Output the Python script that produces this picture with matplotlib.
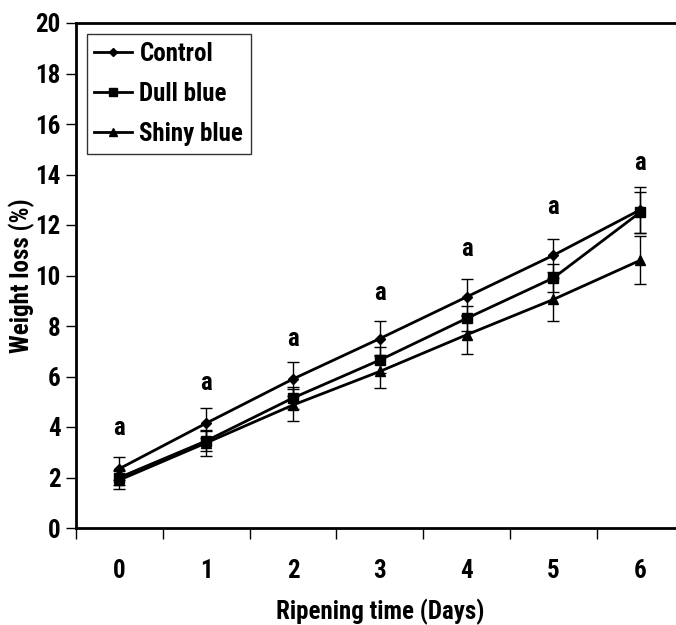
import matplotlib
matplotlib.use("Agg")
import matplotlib.pyplot as plt
from matplotlib.lines import Line2D
import numpy as np

# --- data ---
days = [0, 1, 2, 3, 4, 5, 6]
control = [2.35, 4.15, 5.9, 7.5, 9.15, 10.8, 12.6]
dull_blue = [2.0, 3.45, 5.15, 6.65, 8.3, 9.9, 12.5]
shiny_blue = [1.9, 3.37, 4.87, 6.2, 7.65, 9.05, 10.6]
control_err = [0.45, 0.6, 0.68, 0.68, 0.7, 0.65, 0.9]
dull_err = [0.3, 0.4, 0.45, 0.5, 0.5, 0.55, 0.8]
shiny_err = [0.35, 0.5, 0.62, 0.64, 0.75, 0.87, 0.95]
letters = ["a", "a", "a", "a", "a", "a", "a"]
letter_y = [3.95, 5.75, 7.5, 9.3, 11.05, 12.7, 14.45]

font = ["Roboto Condensed", "PT Sans Narrow", "Liberation Sans", "DejaVu Sans"]
plt.rcParams["font.family"] = font
plt.rcParams["font.weight"] = "bold"
fs = 18

fig = plt.figure(figsize=(6.76, 6.25), dpi=100)
ax = fig.add_axes([76 / 676, 97 / 625, 607.5 / 676, 505 / 625])

series = [
    ("Control", control, control_err, "D", 5),
    ("Dull blue", dull_blue, dull_err, "s", 7),
    ("Shiny blue", shiny_blue, shiny_err, "^", 7),
]
handles = []
for name, vals, err, mk, ms in series:
    ax.errorbar(days, vals, yerr=err, color="black", marker=mk, markersize=ms,
                linewidth=2, elinewidth=1, capsize=4, capthick=1)
    handles.append(Line2D([], [], color="black", marker=mk, markersize=ms - 1,
                          linewidth=2, label=name))

for d, t, yv in zip(days, letters, letter_y):
    ax.text(d, yv, t, ha="center", va="center", fontsize=fs, fontweight="bold")

ax.set_xlim(-0.5, 6.5)
ax.set_ylim(0, 20)
ax.set_yticks(np.arange(0, 21, 2))
ax.set_xticks(days)
ax.set_xticks(np.arange(-0.5, 7, 1), minor=True)
ax.tick_params(axis="x", which="major", length=0, pad=22, labelsize=fs)
ax.tick_params(axis="x", which="minor", length=8, width=1, direction="out")
ax.tick_params(axis="y", length=7, width=1, direction="out", labelsize=fs, pad=4)
for lab in ax.get_xticklabels() + ax.get_yticklabels():
    lab.set_fontweight("bold")

for s in ax.spines.values():
    s.set_linewidth(2)

ax.set_xlabel("Ripening time (Days)", fontsize=fs, fontweight="bold", labelpad=11.5)
ax.set_ylabel("Weight loss (%)", fontsize=fs, fontweight="bold", labelpad=0.5)

leg = ax.legend(handles=handles, loc="upper left", bbox_to_anchor=(0.018, 0.978),
                frameon=True, fancybox=False, edgecolor="black", fontsize=fs,
                handlelength=1.5, handletextpad=0.3, borderpad=0.3,
                labelspacing=0.65, borderaxespad=0)
leg.get_frame().set_linewidth(1)
for t in leg.get_texts():
    t.set_fontweight("bold")

fig.savefig("out.png", dpi=100)
